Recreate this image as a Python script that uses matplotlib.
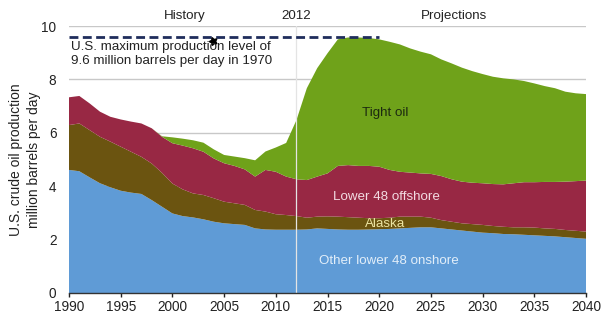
import numpy as np
import matplotlib
matplotlib.use("Agg")
import matplotlib.pyplot as plt

plt.rcParams['font.family'] = ['Liberation Sans', 'DejaVu Sans']

years = list(range(1990, 2041))

onshore = [4.61, 4.56, 4.33, 4.11, 3.96, 3.83, 3.76, 3.71, 3.48, 3.23,
           2.98, 2.88, 2.83, 2.76, 2.67, 2.61, 2.58, 2.55, 2.42, 2.38,
           2.37, 2.37, 2.37, 2.38, 2.42, 2.40, 2.38, 2.37, 2.37, 2.38,
           2.39, 2.40, 2.42, 2.44, 2.46, 2.46, 2.42, 2.38, 2.34, 2.30,
           2.26, 2.24, 2.21, 2.20, 2.18, 2.16, 2.14, 2.12, 2.09, 2.06, 2.03]

alaska = [1.68, 1.79, 1.77, 1.74, 1.71, 1.65, 1.53, 1.39, 1.37, 1.27,
          1.12, 1.00, 0.90, 0.91, 0.88, 0.81, 0.78, 0.75, 0.69, 0.67,
          0.58, 0.55, 0.51, 0.44, 0.44, 0.47, 0.48, 0.47, 0.45, 0.42,
          0.41, 0.42, 0.44, 0.42, 0.40, 0.36, 0.31, 0.29, 0.27, 0.28,
          0.29, 0.27, 0.27, 0.26, 0.28, 0.29, 0.28, 0.28, 0.27, 0.27, 0.27]

offshore = [1.04, 1.03, 1.00, 0.94, 0.93, 1.02, 1.13, 1.25, 1.32, 1.35,
            1.51, 1.64, 1.69, 1.62, 1.49, 1.44, 1.40, 1.33, 1.25, 1.56,
            1.59, 1.44, 1.38, 1.41, 1.50, 1.61, 1.90, 1.95, 1.94, 1.96,
            1.93, 1.79, 1.68, 1.65, 1.62, 1.64, 1.65, 1.59, 1.56, 1.55,
            1.56, 1.57, 1.59, 1.65, 1.69, 1.70, 1.74, 1.76, 1.81, 1.86, 1.91]

tight = [0.00, 0.00, 0.00, 0.00, 0.00, 0.00, 0.00, 0.00, 0.00, 0.02,
         0.22, 0.26, 0.30, 0.34, 0.34, 0.31, 0.35, 0.42, 0.61, 0.69,
         0.91, 1.26, 2.22, 3.44, 4.06, 4.50, 4.74, 4.78, 4.81, 4.79,
         4.77, 4.80, 4.77, 4.65, 4.56, 4.48, 4.37, 4.34, 4.27, 4.18,
         4.09, 4.02, 3.97, 3.89, 3.79, 3.70, 3.59, 3.51, 3.37, 3.29, 3.24]

series_labels = ["Other lower 48 onshore", "Alaska", "Lower 48 offshore", "Tight oil"]
colors = ["#5f9bd6", "#6b5410", "#982844", "#6fa21a"]

max_level = 9.6
max_start, max_end = 1990, 2020
split_year = 2012

fig = plt.figure(figsize=(6.01, 3.16), dpi=100)
ax = fig.add_axes([0.1148, 0.0728, 0.8603, 0.8449])

ax.set_xlim(1990, 2040)
ax.set_ylim(0, 10)
ax.set_yticks([0, 2, 4, 6, 8, 10])
ax.set_xticks(range(1990, 2041, 5))
ax.grid(axis='y', color='#c8c8c8', linewidth=1.0, zorder=0)
ax.set_axisbelow(True)

ax.stackplot(years, onshore, alaska, offshore, tight, colors=colors,
             linewidth=0, zorder=2)

ax.axvline(split_year, color='#e4e4e4', linewidth=0.9, zorder=3)
ax.plot([max_start, max_end], [max_level, max_level], color='#1f2d5c',
        linestyle=(0, (3.2, 1.6)), linewidth=2.0, zorder=4)
ax.plot([2003.9], [9.42], marker=(5, 1, 20), color='black', markersize=6, zorder=5)

fs = 9.6
ax.text(1990.2, 8.95, "U.S. maximum production level of\n9.6 million barrels per day in 1970",
        fontsize=fs, color='#222222', va='center', ha='left', linespacing=1.2, zorder=5)

ax.text(2001.2, 10.38, "History", fontsize=fs, color='#222222', ha='center', va='center')
ax.text(split_year, 10.38, "2012", fontsize=fs, color='#222222', ha='center', va='center')
ax.text(2027.2, 10.38, "Projections", fontsize=fs, color='#222222', ha='center', va='center')

ax.text(2020.6, 6.74, "Tight oil", fontsize=fs, color='#1c2a10', ha='center', va='center', zorder=5)
ax.text(2020.7, 3.6, "Lower 48 offshore", fontsize=fs, color='#f3dbe2', ha='center', va='center', zorder=5)
ax.text(2020.6, 2.58, "Alaska", fontsize=fs, color='#ece4a2', ha='center', va='center', zorder=5)
ax.text(2020.9, 1.21, "Other lower 48 onshore", fontsize=fs, color='#e2eef9', ha='center', va='center', zorder=5)

for s in ['top', 'right', 'left']:
    ax.spines[s].set_visible(False)
ax.spines['bottom'].set_color('#333333')
ax.spines['bottom'].set_linewidth(1.0)
ax.spines['bottom'].set_zorder(6)
ax.tick_params(axis='y', length=0, labelsize=9.8, colors='#222222', pad=9)
ax.tick_params(axis='x', length=3, width=1, labelsize=9.8, colors='#222222', direction='out', pad=2)

ax.set_ylabel("U.S. crude oil production\nmillion barrels per day", fontsize=10,
              color='#222222', linespacing=1.4, labelpad=0)

fig.savefig("out.png", dpi=100)
